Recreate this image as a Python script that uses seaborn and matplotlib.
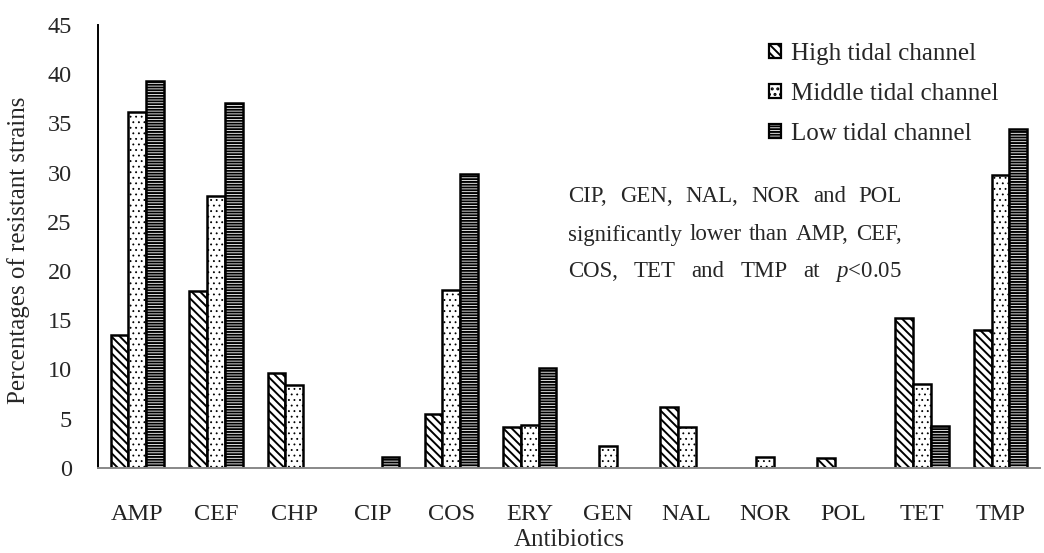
import numpy as np
import pandas as pd
import matplotlib
matplotlib.use('Agg')
import matplotlib.pyplot as plt
from matplotlib.patches import Patch
import seaborn as sns

# percentages of resistant strains per antibiotic and channel
antibiotics = ['AMP', 'CEF', 'CHP', 'CIP', 'COS', 'ERY', 'GEN', 'NAL', 'NOR', 'POL', 'TET', 'TMP']
high = [13.5, 18.0, 9.6, 0.0, 5.5, 4.1, 0.0, 6.2, 0.0, 1.0, 15.2, 14.0]
middle = [36.2, 27.6, 8.4, 0.0, 18.1, 4.4, 2.2, 4.1, 1.1, 0.0, 8.5, 29.8]
low = [39.3, 37.1, 0.0, 1.1, 29.9, 10.1, 0.0, 0.0, 0.0, 0.0, 4.3, 34.4]
channels = ['High tidal channel', 'Middle tidal channel', 'Low tidal channel']
hatches = ['\\\\\\\\', '...', '------']
hatch_lw = [1.4, 0.6, 1.4]

df = pd.DataFrame({'Antibiotics': antibiotics, channels[0]: high,
                   channels[1]: middle, channels[2]: low})
df = df.melt(id_vars='Antibiotics', var_name='channel', value_name='pct')

sns.set_style('white')
plt.rcParams['font.family'] = ['Liberation Serif', 'DejaVu Serif']
plt.rcParams['mathtext.fontset'] = 'custom'
plt.rcParams['mathtext.it'] = 'Liberation Serif:italic'
plt.rcParams['mathtext.rm'] = 'Liberation Serif'
plt.rcParams['hatch.linewidth'] = 1.4

fig = plt.figure(figsize=(10.44, 5.53), dpi=100)
ax = fig.add_axes([0.094, 0.154, 0.902, 0.801])
sns.barplot(data=df, x='Antibiotics', y='pct', hue='channel', hue_order=channels,
            palette=['white'] * 3, edgecolor='black', linewidth=1.8, width=0.68,
            saturation=1, ax=ax, legend=False)

for cont, h, hl in zip(ax.containers, hatches, hatch_lw):
    for bar in cont:
        bar.set_hatch(h)
        if hasattr(bar, 'set_hatch_linewidth'):
            bar.set_hatch_linewidth(hl)
        if bar.get_height() == 0:
            bar.set_visible(False)

ax.set_xlim(-0.5, 11.5)
ax.set_ylim(0, 45)
ax.set_yticks(np.arange(0, 46, 5))
ax.set_xticks(np.arange(0.5, 11, 1), minor=True)
ax.tick_params(axis='x', which='major', length=0, labelsize=17.5, pad=26, colors='#222222')
ax.tick_params(axis='x', which='minor', direction='in', length=5, color='#777777', width=1)
ax.tick_params(axis='y', direction='in', length=6, width=1.2, color='black', labelsize=17.5, pad=19)
for lab in ax.get_yticklabels():
    lab.set_horizontalalignment('right')
sns.despine(ax=ax)
ax.spines['left'].set_color('black')
ax.spines['left'].set_linewidth(1.4)
ax.spines['bottom'].set_color('#888888')
ax.spines['bottom'].set_linewidth(1.4)
ax.set_xlabel('Antibiotics', fontsize=18, va='center')
ax.xaxis.set_label_coords(0.5, -0.163)
ax.set_ylabel('Percentages of resistant strains', fontsize=18, va='center')
ax.yaxis.set_label_coords(-0.085, 0.49)

handles = []
for h, hl in zip(hatches, hatch_lw):
    p = Patch(facecolor='white', edgecolor='black', hatch=h, linewidth=1.6)
    if hasattr(p, 'set_hatch_linewidth'):
        p.set_hatch_linewidth(hl)
    handles.append(p)
fig.legend(handles, channels, loc='upper left', bbox_to_anchor=(0.715, 0.963), frameon=False,
           fontsize=18, handlelength=0.5, handleheight=0.5, handletextpad=0.4, labelspacing=0.72)

# justified note text
lines = ['CIP, GEN, NAL, NOR and POL',
         'significantly lower than AMP, CEF,',
         r'COS, TET and TMP at $\mathit{p}$<0.05']
x0, x1 = 568, 902
ys = [197, 235, 272]
fig.canvas.draw()
renderer = fig.canvas.get_renderer()
H = fig.bbox.height
for line, yy in zip(lines, ys):
    words = line.split(' ')
    texts = [fig.text(0, 1 - yy / H, w, fontsize=16.5, va='center', ha='left') for w in words]
    widths = [t.get_window_extent(renderer).width for t in texts]
    gap = (x1 - x0 - sum(widths)) / (len(words) - 1)
    x = x0
    for t, w in zip(texts, widths):
        t.set_x(x / fig.bbox.width)
        x += w + gap

fig.savefig('out.png', dpi=100)
